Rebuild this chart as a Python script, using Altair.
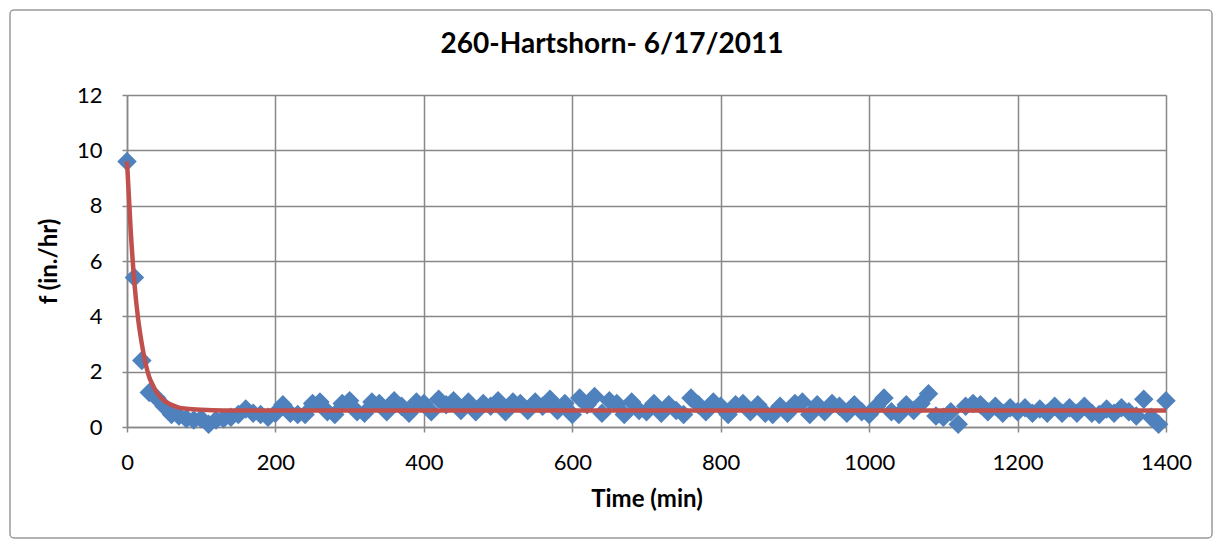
import altair as alt
import pandas as pd

# Measured infiltration data (every 10 min)
time_min = list(range(0, 1401, 10))
f_in_hr = [
    9.6, 5.4, 2.4, 1.25, 1.05, 0.75, 0.45, 0.4, 0.3, 0.25,
    0.3, 0.1, 0.25, 0.3, 0.35, 0.45, 0.65, 0.5, 0.45, 0.35,
    0.5, 0.8, 0.5, 0.45, 0.45, 0.85, 0.9, 0.55, 0.45, 0.85,
    0.95, 0.55, 0.5, 0.9, 0.85, 0.55, 0.95, 0.75, 0.5, 0.9,
    0.85, 0.55, 1.0, 0.8, 0.95, 0.6, 0.9, 0.55, 0.85, 0.75,
    0.95, 0.55, 0.9, 0.85, 0.6, 0.9, 0.75, 1.0, 0.6, 0.85,
    0.45, 1.05, 0.8, 1.1, 0.5, 0.95, 0.85, 0.45, 0.9, 0.6,
    0.55, 0.85, 0.5, 0.8, 0.6, 0.45, 1.05, 0.8, 0.55, 0.9,
    0.75, 0.45, 0.8, 0.85, 0.55, 0.8, 0.5, 0.45, 0.75, 0.5,
    0.85, 0.9, 0.45, 0.8, 0.55, 0.85, 0.75, 0.5, 0.8, 0.55,
    0.45, 0.75, 1.05, 0.55, 0.45, 0.8, 0.6, 0.85, 1.2, 0.4,
    0.35, 0.55, 0.1, 0.75, 0.85, 0.8, 0.55, 0.75, 0.5, 0.7,
    0.55, 0.7, 0.5, 0.65, 0.5, 0.75, 0.5, 0.7, 0.5, 0.75,
    0.5, 0.45, 0.65, 0.5, 0.7, 0.55, 0.4, 1.0, 0.35, 0.1,
    0.95,
]

# Fitted (Horton-type) trend curve
fit_time = [0, 5, 10, 15, 20, 25, 30, 35, 40, 50, 60, 70, 80, 100, 130, 200, 600, 1000, 1400]
fit_f = [9.6, 7.1, 5.2, 3.9, 3.0, 2.3, 1.8, 1.5, 1.25, 0.95, 0.8, 0.7, 0.66, 0.62, 0.6, 0.6, 0.6, 0.6, 0.6]

chart_title = ["260-Hartshorn- 6/17/2011"]

obs = pd.DataFrame({"t": time_min, "f": f_in_hr})
fit = pd.DataFrame({"t": fit_time, "f": fit_f})

FONT = "Lato"
W, H = 1039, 332
GRID = "#888888"

xscale = alt.Scale(domain=[0, 1400], nice=False, zero=True)
yscale = alt.Scale(domain=[0, 12], nice=False)

xaxis = alt.Axis(
    title="Time (min)", values=list(range(0, 1401, 200)), format="d",
    grid=True, gridColor=GRID, gridWidth=1.5, labelFlush=False,
    domainColor=GRID, domainWidth=1.5,
    tickColor=GRID, tickSize=5, tickWidth=1.5,
    labelFont=FONT, labelFontSize=22, labelColor="#000000", labelPadding=20,
    titleFont=FONT, titleFontSize=24, titleFontWeight="bold", titleColor="#000000",
    titlePadding=14,
)
yaxis = alt.Axis(
    title="f (in./hr)", values=list(range(0, 13, 2)), format="d",
    grid=True, gridColor=GRID, gridWidth=1.5, labelFlush=False,
    domainColor=GRID, domainWidth=1.5,
    tickColor=GRID, tickSize=5, tickWidth=1.5,
    labelFont=FONT, labelFontSize=22, labelColor="#000000", labelPadding=20,
    titleFont=FONT, titleFontSize=24, titleFontWeight="bold", titleColor="#000000",
    titlePadding=15,
)

points = alt.Chart(obs).mark_point(
    shape="diamond", filled=True, size=380, color="#4F81BD", opacity=1
).encode(
    x=alt.X("t:Q", scale=xscale, axis=xaxis),
    y=alt.Y("f:Q", scale=yscale, axis=yaxis),
)

curve = alt.Chart(fit).mark_line(
    color="#C0504D", strokeWidth=4.5, interpolate="monotone"
).encode(
    x=alt.X("t:Q", scale=xscale),
    y=alt.Y("f:Q", scale=yscale),
)

border = alt.Chart(pd.DataFrame({"d": [0]})).mark_rect(
    fill=None, stroke="#9a9a9a", strokeWidth=1.5, cornerRadius=4, clip=False
).encode(
    x=alt.value(-117), x2=alt.value(W + 46),
    y=alt.value(-85), y2=alt.value(H + 111),
)

title = alt.Chart(pd.DataFrame({"title": chart_title})).mark_text(
    font=FONT, fontSize=28, fontWeight="bold", color="#000000",
    align="center", baseline="middle",
).encode(
    text="title:N", x=alt.value(485), y=alt.value(-50),
)

chart = alt.layer(border, points, curve, title).properties(
    width=W, height=H,
    autosize=alt.AutoSizeParams(type="none"),
    padding={"left": 119, "top": 87, "right": 48, "bottom": 113},
).configure_view(stroke=GRID, strokeWidth=1.5).configure(background="white")

chart.save("out.html", embed_options={"renderer": "svg", "actions": False})
